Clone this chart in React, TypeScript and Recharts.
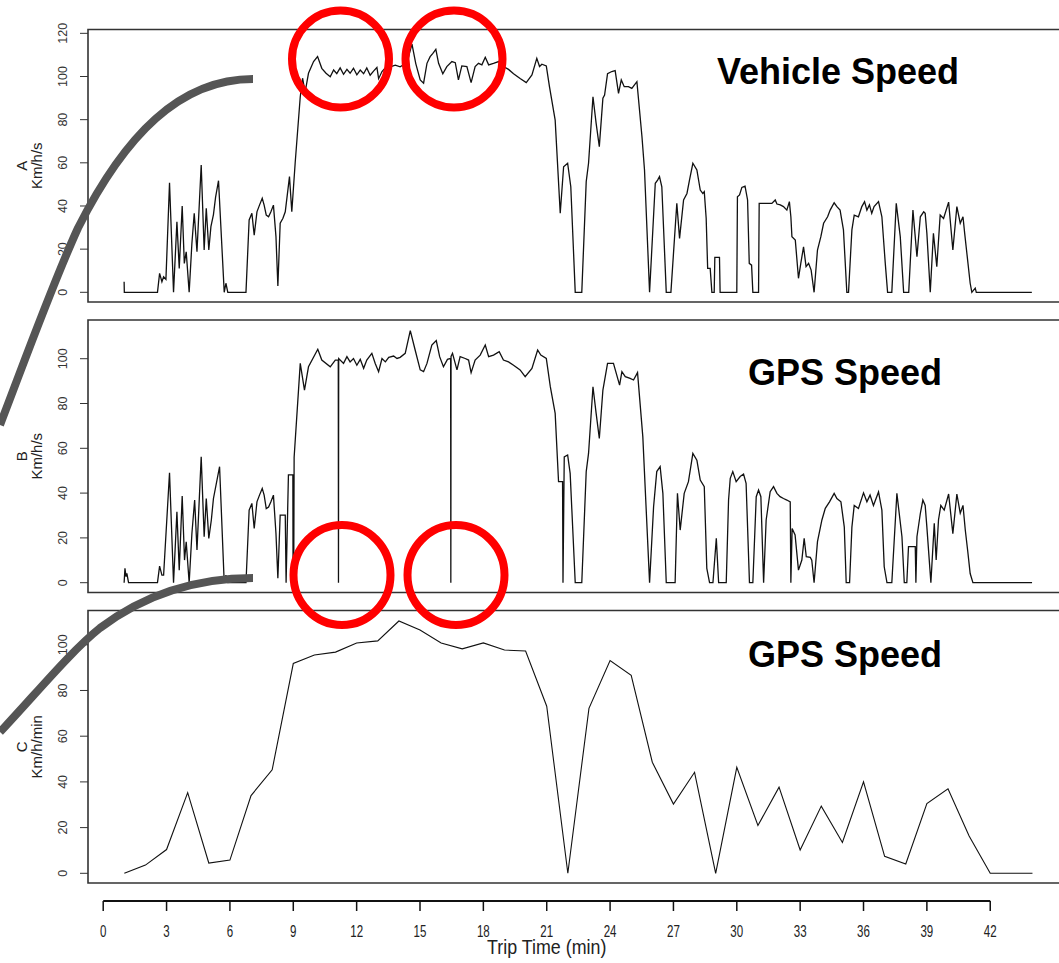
import React from "react";
import { LineChart, Line, XAxis, YAxis, ReferenceArea, ReferenceLine } from "recharts";

const FONT = "'Liberation Sans', Arial, Helvetica, sans-serif";

// shared time scale (minutes), same for the three stacked panels
const X_DOMAIN: [number, number] = [-0.72, 45.72];
const CHART_W = 1100;
const AXIS_W = 88;
const PLOT_W = 980.8;

const timeTicks = [0, 3, 6, 9, 12, 15, 18, 21, 24, 27, 30, 33, 36, 39, 42];
const ticksA = [0, 20, 40, 60, 80, 100, 120];
const ticksB = [0, 20, 40, 60, 80, 100];
const ticksC = [0, 20, 40, 60, 80, 100];

// A: vehicle speed, [minute, km/h]
const vehicleSpeed: [number, number][] = [
  [0.99, 4.9], [1.0, 0], [2.57, 0], [2.67, 8.8], [2.78, 4.9], [2.86, 7.2], [2.97, 6.0], [3.14, 50.8],
  [3.33, 0], [3.49, 32.7], [3.6, 11.1], [3.74, 40.0], [3.84, 13.4], [3.93, 18.8], [4.07, 0], [4.2, 22.7],
  [4.31, 36.6], [4.44, 18.8], [4.64, 59.0], [4.78, 19.6], [4.88, 38.9], [5.0, 19.6], [5.1, 30.4], [5.22, 36.0],
  [5.32, 44.0], [5.46, 51.7], [5.73, 0], [5.81, 4.2], [5.9, 0], [6.76, 0], [6.91, 33.5], [7.04, 36.6],
  [7.15, 26.5], [7.28, 37.3], [7.4, 40.4], [7.53, 43.6], [7.62, 40.4], [7.72, 35.8], [7.83, 35.0], [7.94, 37.3],
  [8.06, 40.4], [8.18, 25.8], [8.27, 2.9], [8.38, 32.0], [8.51, 34.3], [8.62, 37.3], [8.82, 53.6], [8.93, 37.3],
  [9.09, 60.0], [9.33, 90.6], [9.44, 99.2], [9.56, 92.7], [9.72, 101.5], [9.96, 106.9], [10.15, 109.2], [10.35, 103.8],
  [10.55, 101.5], [10.75, 99.9], [10.91, 103.0], [11.06, 101.3], [11.22, 104.0], [11.38, 101.0], [11.54, 103.3], [11.69, 101.5],
  [11.85, 103.8], [12.01, 100.8], [12.17, 103.0], [12.33, 101.3], [12.48, 104.0], [12.64, 100.6], [12.8, 102.5], [12.96, 104.2],
  [13.04, 99.0], [13.2, 102.3], [13.36, 104.0], [13.59, 104.5], [13.83, 105.3], [14.06, 104.5], [14.38, 106.4], [14.62, 115.0],
  [14.8, 106.0], [15.01, 98.4], [15.17, 96.9], [15.33, 106.1], [15.48, 109.2], [15.61, 110.7], [15.75, 112.6], [15.88, 106.1],
  [16.08, 101.3], [16.27, 104.6], [16.51, 106.9], [16.67, 106.4], [16.82, 98.4], [16.98, 104.9], [17.22, 104.6], [17.42, 97.2],
  [17.61, 104.6], [17.77, 106.1], [17.93, 105.4], [18.09, 108.9], [18.25, 105.4], [18.48, 106.1], [18.72, 106.9], [18.95, 104.6],
  [19.19, 103.3], [19.43, 101.3], [19.74, 99.1], [20.03, 97.2], [20.3, 100.7], [20.53, 108.4], [20.66, 104.6], [20.77, 105.7],
  [20.98, 104.9], [21.13, 95.3], [21.4, 79.8], [21.64, 36.6], [21.8, 58.2], [21.99, 59.8], [22.14, 48.9], [22.35, 0],
  [22.66, 0], [22.87, 51.3], [22.98, 59.8], [23.19, 90.6], [23.34, 78.3], [23.49, 67.5], [23.66, 89.9], [23.74, 91.4],
  [23.88, 101.3], [24.08, 102.3], [24.24, 102.7], [24.4, 92.2], [24.53, 98.4], [24.67, 95.3], [24.87, 95.3], [25.03, 94.5],
  [25.27, 97.6], [25.51, 72.1], [25.63, 56.7], [25.87, 0], [26.14, 50.5], [26.25, 52.0], [26.34, 53.6], [26.45, 48.9],
  [26.66, 0], [26.88, 0], [27.16, 41.2], [27.29, 25.0], [27.48, 42.8], [27.64, 45.8], [27.76, 52.0], [27.92, 59.8],
  [28.11, 56.7], [28.27, 47.4], [28.39, 45.8], [28.46, 46.6], [28.55, 34.3], [28.62, 11.1], [28.74, 11.1], [28.82, 0],
  [28.93, 0], [28.96, 16.2], [29.18, 16.2], [29.21, 0], [30.0, 0], [30.03, 44.3], [30.13, 45.1], [30.24, 48.6],
  [30.39, 49.2], [30.51, 42.8], [30.59, 13.4], [30.7, 12.6], [30.76, 0], [31.03, 0], [31.06, 41.2], [31.66, 41.2],
  [31.82, 42.8], [31.9, 40.9], [32.06, 40.5], [32.21, 39.7], [32.37, 38.1], [32.49, 42.0], [32.56, 35.0], [32.61, 25.8],
  [32.77, 24.2], [32.92, 6.5], [33.03, 13.4], [33.16, 21.1], [33.28, 11.9], [33.4, 13.4], [33.52, 10.3], [33.66, 0],
  [33.82, 19.6], [33.98, 25.8], [34.11, 32.0], [34.3, 35.0], [34.42, 38.1], [34.61, 41.5], [34.74, 39.7], [34.89, 38.1],
  [35.05, 28.9], [35.21, 0], [35.29, 0], [35.45, 28.9], [35.56, 35.8], [35.76, 35.0], [35.92, 39.7], [36.05, 42.0],
  [36.16, 38.1], [36.28, 40.5], [36.39, 36.6], [36.5, 39.7], [36.71, 42.0], [36.87, 35.0], [37.03, 13.4], [37.14, 0],
  [37.34, 0], [37.55, 41.2], [37.74, 25.8], [37.9, 0], [38.14, 0], [38.34, 38.1], [38.53, 16.5], [38.69, 35.0],
  [38.85, 37.3], [38.92, 36.6], [39.0, 27.3], [39.16, 0], [39.31, 27.3], [39.47, 11.9], [39.63, 35.8], [39.79, 34.2],
  [40.03, 41.8], [40.23, 19.6], [40.42, 39.7], [40.58, 32.0], [40.71, 35.0], [40.79, 27.3], [41.05, 4.2], [41.13, 0],
  [41.29, 1.9], [41.34, 0], [43.97, 0],
];

// B: GPS speed per second, [minute, km/h]
const gpsSpeed: [number, number][] = [
  [0.99, 0], [1.03, 6.4], [1.08, 2.7], [1.12, 4.2], [1.2, 0], [2.57, 0], [2.67, 7.4], [2.78, 3.4],
  [2.86, 3.4], [3.14, 49.1], [3.33, 0], [3.49, 31.7], [3.6, 5.6], [3.74, 38.7], [3.85, 10.1], [3.93, 18.3],
  [4.07, 0], [4.2, 22.0], [4.33, 36.9], [4.44, 14.6], [4.64, 56.2], [4.78, 20.5], [4.88, 37.6], [5.0, 19.8],
  [5.12, 28.0], [5.22, 37.6], [5.51, 51.8], [5.73, 0], [5.81, 3.4], [5.9, 0], [6.76, 0], [6.91, 32.4],
  [7.04, 35.4], [7.15, 24.2], [7.28, 36.1], [7.4, 39.1], [7.53, 42.1], [7.62, 39.1], [7.72, 33.1], [7.83, 33.8],
  [7.94, 36.1], [8.06, 39.1], [8.18, 22.0], [8.27, 2.0], [8.38, 30.2], [8.62, 30.2], [8.66, 0], [8.77, 48.1],
  [8.98, 48.1], [8.99, 0], [9.02, 0], [9.04, 56.0], [9.33, 97.9], [9.53, 86.0], [9.72, 96.4], [10.16, 104.2],
  [10.35, 99.4], [10.75, 96.4], [10.99, 99.4], [11.13, 99.4], [11.14, 0], [11.15, 100.1], [11.38, 97.9], [11.54, 100.9],
  [11.69, 98.6], [11.85, 100.1], [12.01, 97.1], [12.17, 99.7], [12.33, 95.7], [12.48, 99.4], [12.72, 102.4], [12.88, 97.9],
  [13.04, 94.2], [13.2, 100.1], [13.36, 98.6], [13.52, 100.6], [13.75, 101.2], [13.91, 100.1], [14.06, 100.6], [14.3, 102.4],
  [14.54, 112.5], [14.77, 103.9], [15.01, 95.0], [15.17, 94.2], [15.33, 97.9], [15.56, 106.1], [15.77, 108.1], [15.93, 100.9],
  [16.11, 96.4], [16.3, 99.7], [16.45, 100.1], [16.46, 0], [16.47, 101.0], [16.54, 102.4], [16.75, 95.0], [16.9, 100.9],
  [17.14, 100.1], [17.3, 99.4], [17.42, 93.8], [17.61, 99.4], [17.85, 101.6], [18.09, 106.1], [18.25, 100.9], [18.48, 101.6],
  [18.75, 103.1], [18.95, 99.4], [19.19, 98.6], [19.43, 97.1], [19.74, 95.0], [19.98, 92.0], [20.3, 95.7], [20.57, 103.9],
  [20.72, 101.6], [20.98, 100.1], [21.17, 87.5], [21.4, 75.6], [21.56, 45.1], [21.75, 45.1], [21.77, 0], [21.83, 56.2],
  [21.99, 57.0], [22.11, 48.8], [22.35, 0], [22.66, 0], [22.87, 49.6], [22.98, 57.7], [23.19, 87.5], [23.34, 75.6],
  [23.49, 64.4], [23.66, 86.0], [23.88, 97.9], [24.16, 97.9], [24.45, 88.2], [24.56, 94.2], [24.72, 92.0], [24.95, 91.2],
  [25.11, 90.5], [25.3, 93.8], [25.55, 65.2], [25.87, 0], [26.06, 33.9], [26.21, 49.6], [26.37, 51.8], [26.5, 39.9],
  [26.66, 0], [27.08, 0], [27.19, 39.9], [27.32, 23.5], [27.51, 39.9], [27.71, 45.1], [27.92, 57.7], [28.11, 54.7],
  [28.27, 45.8], [28.46, 42.9], [28.58, 6.4], [28.71, 0], [28.87, 0], [29.03, 19.8], [29.14, 0], [29.5, 0],
  [29.61, 36.9], [29.69, 46.6], [29.81, 49.6], [29.97, 45.1], [30.16, 47.4], [30.32, 48.5], [30.44, 44.4], [30.6, 0],
  [30.76, 0], [30.92, 38.4], [31.03, 41.4], [31.14, 38.4], [31.27, 0], [31.39, 28.0], [31.58, 40.6], [31.74, 42.9],
  [31.9, 39.9], [32.05, 38.4], [32.21, 37.6], [32.37, 36.9], [32.53, 36.1], [32.56, 0], [32.62, 24.2], [32.76, 21.3],
  [32.92, 5.6], [33.08, 10.1], [33.19, 19.8], [33.29, 11.6], [33.48, 11.3], [33.55, 10.1], [33.66, 0], [33.82, 18.3],
  [34.03, 28.0], [34.19, 33.2], [34.39, 36.1], [34.61, 39.9], [34.74, 37.6], [34.93, 36.1], [35.09, 24.8], [35.18, 0],
  [35.34, 0], [35.45, 24.8], [35.56, 34.5], [35.76, 33.1], [36.0, 40.1], [36.16, 36.1], [36.31, 39.1], [36.47, 34.5],
  [36.71, 40.5], [36.87, 32.4], [36.98, 7.1], [37.11, 0], [37.34, 0], [37.58, 39.9], [37.82, 20.5], [37.93, 0],
  [38.05, 0], [38.13, 16.1], [38.45, 16.1], [38.48, 0], [38.53, 20.5], [38.69, 30.9], [38.81, 36.9], [38.92, 34.5],
  [39.0, 24.8], [39.19, 0], [39.35, 26.5], [39.44, 10.1], [39.55, 28.0], [39.66, 34.5], [39.82, 32.4], [40.03, 39.6],
  [40.23, 21.9], [40.42, 39.6], [40.58, 31.0], [40.71, 34.5], [40.82, 23.4], [40.93, 14.5], [41.05, 4.1], [41.18, 0],
  [43.98, 0],
];

// C: GPS speed averaged per minute
const minuteTime = [1, 2, 3, 4, 5, 6, 7, 8, 9, 10, 11, 12, 13, 14, 15, 16, 17, 18, 19, 20, 21, 22,
  23, 24, 25, 26, 27, 28, 29, 30, 31, 32, 33, 34, 35, 36, 37, 38, 39, 40, 41, 42, 43, 44];
const minuteSpeed = [0, 3.6, 10.4, 35.3, 4.5, 5.8, 34.0, 45.3, 91.8, 95.5, 96.8, 100.8, 101.7, 110.4, 106.5, 100.8,
  98.2, 100.8, 97.7, 97.3, 73.1, 0, 72.2, 93.1, 86.6, 48.6, 30.3, 44.2, 0, 46.4, 20.9, 37.7, 10.2, 29.4, 13.5, 40.0,
  7.4, 4.1, 30.5, 37.0, 16.3, 0, 0, 0];

const toRows = (pairs: [number, number][]) => pairs.map(([t, v]) => ({ t, v }));

const YTick = (p: any) => (
  <text
    transform={`translate(${p.x - 11},${p.y}) rotate(-90)`}
    textAnchor="middle"
    fontSize={12.5}
    fill="#333"
    fontFamily={FONT}
  >
    {p.payload.value}
  </text>
);

const XTick = (p: any) => (
  <text
    transform={`translate(${p.x},${p.y + 24}) scale(0.7,1)`}
    textAnchor="middle"
    fontSize={16.5}
    fill="#222"
    fontFamily={FONT}
  >
    {p.payload.value}
  </text>
);

type PanelProps = {
  rows: { t: number; v: number }[];
  top: number;
  height: number;
  bottomMargin: number;
  domain: [number, number];
  boxLo: number;
  boxMid: number;
  ticks: number[];
  letter: string;
  unit: string;
  lineWidth: number;
  timeAxis?: boolean;
};

function Panel(p: PanelProps) {
  const title = () => (
    <g fontFamily={FONT} fill="#222" fontSize={15}>
      <text transform={`translate(26.5,${p.boxMid}) rotate(-90)`} textAnchor="middle">{p.letter}</text>
      <text transform={`translate(41.5,${p.boxMid}) rotate(-90)`} textAnchor="middle">{p.unit}</text>
    </g>
  );
  const xTitle = () => {
    const cx = AXIS_W + ((21 - X_DOMAIN[0]) / (X_DOMAIN[1] - X_DOMAIN[0])) * PLOT_W;
    return (
      <text
        transform={`translate(${cx},954) scale(0.85,1)`}
        textAnchor="middle"
        fontSize={21}
        fill="#222"
        fontFamily={FONT}
      >
        Trip Time (min)
      </text>
    );
  };
  return (
    <div style={{ position: "absolute", left: 0, top: 0 }}>
      <LineChart
        width={CHART_W}
        height={p.height}
        data={p.rows}
        margin={{ top: p.top, right: CHART_W - AXIS_W - PLOT_W, bottom: p.bottomMargin, left: 0 }}
      >
        <XAxis
          dataKey="t"
          type="number"
          domain={X_DOMAIN}
          allowDataOverflow
          hide={!p.timeAxis}
          height={40}
          ticks={timeTicks}
          interval={0}
          axisLine={false}
          tickSize={10}
          tickLine={{ stroke: "#111", strokeWidth: 1.5 }}
          tick={<XTick />}
          label={{ content: xTitle }}
        />
        <YAxis
          type="number"
          domain={p.domain}
          allowDataOverflow
          width={AXIS_W}
          ticks={p.ticks}
          interval={0}
          axisLine={false}
          tickSize={8}
          tickLine={{ stroke: "#333" }}
          tick={<YTick />}
          label={{ content: title }}
        />
        <ReferenceArea
          x1={X_DOMAIN[0]}
          x2={X_DOMAIN[1]}
          y1={p.boxLo}
          y2={p.domain[1]}
          fill="none"
          stroke="#333"
          strokeWidth={1.6}
          ifOverflow="visible"
        />
        {p.timeAxis && (
          <ReferenceLine
            segment={[{ x: 0, y: p.domain[0] }, { x: 42, y: p.domain[0] }]}
            stroke="#111"
            strokeWidth={2.2}
            ifOverflow="visible"
          />
        )}
        <Line
          type="linear"
          dataKey="v"
          stroke="#111"
          strokeWidth={p.lineWidth}
          dot={false}
          activeDot={false}
          isAnimationActive={false}
        />
      </LineChart>
    </div>
  );
}

export default function App() {
  const minuteRows = minuteTime.map((t, i) => ({ t, v: minuteSpeed[i] }));
  const bigText = { fontFamily: FONT, fontWeight: 700, fontSize: 36, fill: "#000" } as const;
  return (
    <div
      style={{
        position: "absolute",
        left: 0,
        top: 0,
        width: 1059,
        height: 963,
        overflow: "hidden",
        background: "#fff",
      }}
    >
      <Panel rows={toRows(vehicleSpeed)} top={29.5} height={310} bottomMargin={8}
        domain={[-4.49, 121.78]} boxLo={-4.49} boxMid={165.75} ticks={ticksA}
        letter="A" unit="Km/h/s" lineWidth={1.3} />
      <Panel rows={toRows(gpsSpeed)} top={320} height={600} bottomMargin={7.5}
        domain={[-4.375, 117.28]} boxLo={-4.375} boxMid={456.25} ticks={ticksB}
        letter="B" unit="Km/h/s" lineWidth={1.3} />
      <Panel rows={minuteRows} top={610.5} height={963} bottomMargin={22}
        domain={[-12.12, 115.0]} boxLo={-4.25} boxMid={746.75} ticks={ticksC}
        letter="C" unit="Km/h/min" lineWidth={1.1} timeAxis />

      {/* annotations laid over the figure */}
      <svg width={1059} height={963} style={{ position: "absolute", left: 0, top: 0, pointerEvents: "none" }}>
        <path d="M 253 79 C 180 79, 125 135, 78 228 C 52 285, 25 360, 0 425" fill="none" stroke="#555" strokeWidth={8} />
        <path d="M 253 578 C 190 578, 140 598, 100 628 C 70 652, 35 695, 0 732" fill="none" stroke="#555" strokeWidth={8} />
        <ellipse cx={340.5} cy={59} rx={48.5} ry={48.5} fill="none" stroke="#ff0000" strokeWidth={8} />
        <ellipse cx={454} cy={59} rx={48.5} ry={48.5} fill="none" stroke="#ff0000" strokeWidth={8} />
        <ellipse cx={342} cy={575} rx={48.5} ry={50} fill="none" stroke="#ff0000" strokeWidth={8} />
        <ellipse cx={456} cy={575} rx={48.5} ry={50} fill="none" stroke="#ff0000" strokeWidth={8} />
        <text x={838} y={84} textAnchor="middle" {...bigText}>Vehicle Speed</text>
        <text x={845} y={385} textAnchor="middle" {...bigText}>GPS Speed</text>
        <text x={845} y={667} textAnchor="middle" {...bigText}>GPS Speed</text>
      </svg>
    </div>
  );
}
